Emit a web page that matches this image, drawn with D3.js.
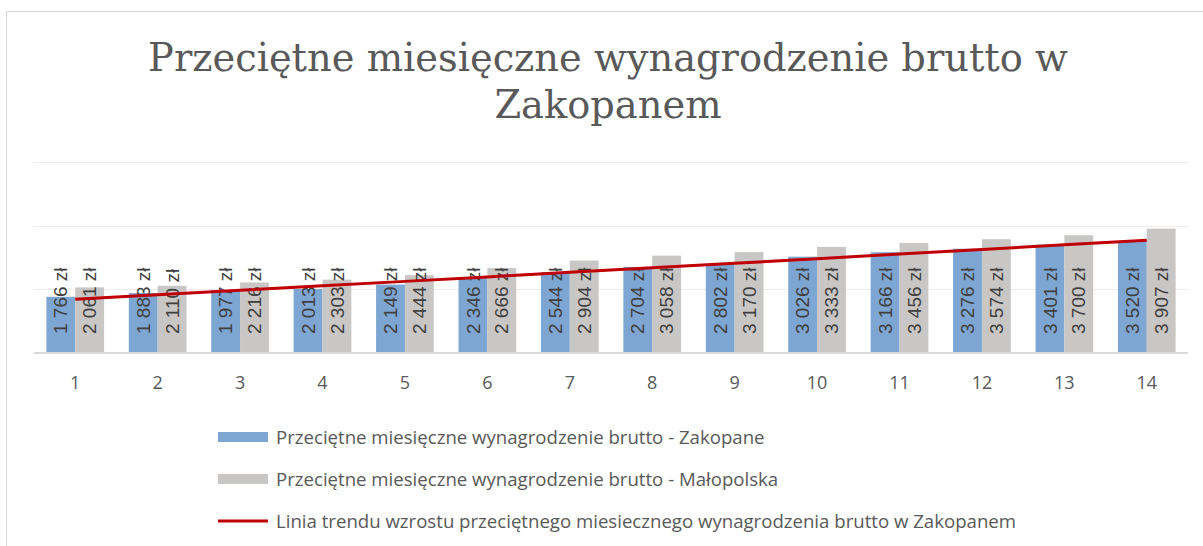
<!DOCTYPE html>
<html>
<head>
<meta charset="utf-8">
<script src="https://cdn.jsdelivr.net/npm/d3@7"></script>
<style>
  body { margin: 0; background: #fff; }
  svg { display: block; }
</style>
</head>
<body>
<div id="chart"></div>
<script>
const categories = ["1", "2", "3", "4", "5", "6", "7", "8", "9", "10", "11", "12", "13", "14"];
const zakopane = [1766, 1883, 1977, 2013, 2149, 2346, 2544, 2704, 2802, 3026, 3166, 3276, 3401, 3520];
const malopolska = [2061, 2110, 2216, 2303, 2444, 2666, 2904, 3058, 3170, 3333, 3456, 3574, 3700, 3907];
// trend line values
const trend = [1690, 1830, 1970, 2110, 2250, 2390, 2540, 2680, 2820, 2960, 3110, 3250, 3400, 3540];
const yTicks = [0, 2000, 4000, 6000];
const seriesNames = [
  "Przeciętne miesięczne wynagrodzenie brutto - Zakopane",
  "Przeciętne miesięczne wynagrodzenie brutto - Małopolska",
  "Linia trendu wzrostu przeciętnego miesiecznego wynagrodzenia brutto w Zakopanem"
];
const titleLines = ["Przeciętne miesięczne wynagrodzenie brutto w", "Zakopanem"];

const W = 1203, H = 546;
const plot = { left: 34, right: 1188, top: 162, bottom: 353 };
const blue = "#7ea6d3", grey = "#c9c7c5", red = "#c00000";

const svg = d3.select("#chart").append("svg")
  .attr("width", W).attr("height", H);

// chart frame
svg.append("rect")
  .attr("x", 6.5).attr("y", 11.5)
  .attr("width", W + 10).attr("height", H + 10)
  .attr("fill", "#fff").attr("stroke", "#d9d9d9");

// title, sized to the reference width
const title = svg.append("g");
titleLines.forEach((t, i) => {
  title.append("text")
    .attr("x", 608).attr("y", 71 + i * 47)
    .attr("text-anchor", "middle")
    .attr("font-family", "DejaVu Serif, serif")
    .attr("font-size", 36)
    .attr("fill", "#595959")
    .text(t);
});
const w0 = title.select("text").node().getComputedTextLength();
title.selectAll("text").attr("font-size", 36 * 920 / w0);

const x0 = d3.scaleBand().domain(categories).range([plot.left, plot.right]).paddingInner(0.3).paddingOuter(0.15);
const x1 = d3.scaleBand().domain(["z", "m"]).range([0, x0.bandwidth()]);
const y = d3.scaleLinear().domain([0, 6000]).range([plot.bottom, plot.top]);

// gridlines
svg.append("g").selectAll("line")
  .data(yTicks.slice(1))
  .join("line")
  .attr("x1", plot.left).attr("x2", plot.right)
  .attr("y1", d => Math.round(y(d)) + 0.5).attr("y2", d => Math.round(y(d)) + 0.5)
  .attr("stroke", "#ececec");

const data = categories.map((c, i) => ({ c, z: zakopane[i], m: malopolska[i], t: trend[i] }));

const groups = svg.append("g").selectAll("g")
  .data(data)
  .join("g")
  .attr("transform", d => `translate(${x0(d.c)},0)`);

groups.append("rect")
  .attr("x", x1("z")).attr("width", x1.bandwidth())
  .attr("y", d => y(d.z)).attr("height", d => y(0) - y(d.z))
  .attr("fill", blue);
groups.append("rect")
  .attr("x", x1("m")).attr("width", x1.bandwidth())
  .attr("y", d => y(d.m)).attr("height", d => y(0) - y(d.m))
  .attr("fill", grey);

// x axis
const xAxis = svg.append("g")
  .attr("transform", `translate(0,${plot.bottom})`)
  .call(d3.axisBottom(x0).tickSize(0).tickPadding(23));
xAxis.select(".domain").attr("stroke", "#d9d9d9").attr("stroke-width", 2)
  .attr("d", `M${plot.left},0H${plot.right}`);
xAxis.selectAll("text")
  .attr("font-family", "Open Sans, sans-serif")
  .attr("font-size", 18)
  .attr("fill", "#595959");

// trend line
const line = d3.line()
  .x(d => x0(d.c) + x0.bandwidth() / 2)
  .y(d => y(d.t));
svg.append("path")
  .datum(data)
  .attr("d", line)
  .attr("fill", "none")
  .attr("stroke", red)
  .attr("stroke-width", 3);

// data labels, rotated, at base of bars
const fmt = v => d3.format(",")(v).replace(",", " ") + " zł";
function addLabels(key) {
  groups.append("text")
    .attr("transform", d => `translate(${x1(key) + x1.bandwidth() / 2},${plot.bottom - 19}) rotate(-90)`)
    .attr("dy", "0.35em")
    .attr("font-family", "Liberation Sans, Arial, sans-serif")
    .attr("font-size", 19)
    .attr("fill", "#404040")
    .text(d => fmt(d[key]));
}
addLabels("z");
addLabels("m");

// legend
const legend = svg.append("g").attr("transform", "translate(218,0)");
const rows = [437, 479, 521];
seriesNames.forEach((name, i) => {
  const g = legend.append("g").attr("transform", `translate(0,${rows[i]})`);
  if (i < 2) {
    g.append("rect").attr("x", 0).attr("y", -5).attr("width", 50).attr("height", 10)
      .attr("fill", i === 0 ? blue : grey);
  } else {
    g.append("line").attr("x1", 0).attr("x2", 50).attr("y1", 0).attr("y2", 0)
      .attr("stroke", red).attr("stroke-width", 3);
  }
  g.append("text")
    .attr("x", 58).attr("dy", "0.35em")
    .attr("font-family", "Open Sans, sans-serif")
    .attr("font-size", 14)
    .attr("fill", "#595959")
    .text(name);
});
const lw = legend.select("text").node().getComputedTextLength();
legend.selectAll("text").attr("font-size", 14 * 489 / lw);
</script>
</body>
</html>
